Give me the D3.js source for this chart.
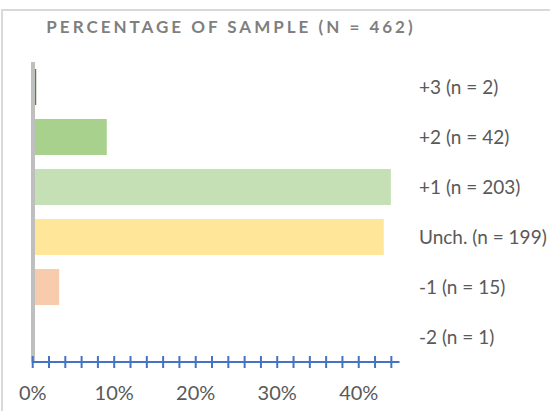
<!DOCTYPE html>
<html><head><meta charset="utf-8">
<script src="https://cdn.jsdelivr.net/npm/d3@7"></script>
<style>html,body{margin:0;padding:0;background:#fff;}svg{display:block;}</style>
</head><body>
<script>
const categories = ["+3 (n = 2)", "+2 (n = 42)", "+1 (n = 203)", "Unch. (n = 199)", "-1 (n = 15)", "-2 (n = 1)"];
const counts = [2, 42, 203, 199, 15, 1];
const total = 462;
const colors = ["#548235", "#a9d18e", "#c5e0b4", "#ffe699", "#f8cbad", "#f4b183"];
const tickLabels = ["0%", "10%", "20%", "30%", "40%"];
const title = "PERCENTAGE OF SAMPLE (N = 462)";

const W = 550, H = 411;
const svg = d3.select("body").append("svg").attr("width", W).attr("height", H);

svg.append("rect").attr("x", 2).attr("y", 10).attr("width", 600).attr("height", 500)
  .attr("fill", "none").attr("stroke", "#d9d9d9").attr("stroke-width", 2);

svg.append("text").attr("x", 231).attr("y", 33).attr("text-anchor", "middle")
  .attr("font-family", "Lato").attr("font-weight", "bold").attr("font-size", 17)
  .attr("letter-spacing", 3).attr("fill", "#7f7f7f").text(title);

const x = d3.scaleLinear().domain([0, 0.45]).range([32.7, 399.5]);
const y = d3.scaleBand().domain(categories).range([62, 362]).paddingInner(0.28).paddingOuter(0.14);

const data = categories.map((c, i) => ({c, v: counts[i] / total, col: colors[i]}));

svg.selectAll("rect.bar").data(data).join("rect").attr("class", "bar")
  .attr("x", x(0)).attr("y", d => y(d.c))
  .attr("width", d => x(d.v) - x(0)).attr("height", y.bandwidth())
  .attr("fill", d => d.col);

// vertical gray axis
svg.append("line").attr("x1", 33).attr("x2", 33).attr("y1", 62).attr("y2", 361)
  .attr("stroke", "#bfbfbf").attr("stroke-width", 4);

// category labels
svg.selectAll("text.cat").data(data).join("text").attr("class", "cat")
  .attr("x", 419).attr("y", d => y(d.c) + y.bandwidth() / 2 + 6.5)
  .attr("font-family", "Lato").attr("font-size", 19).attr("fill", "#595959")
  .text(d => d.c);

// x axis
const ticks = d3.range(0, 23).map(i => i * 0.02);
const ax = svg.append("g").attr("transform", "translate(0,362)");
ax.append("line").attr("x1", x(0) - 1).attr("x2", x(0.45)).attr("stroke", "#4472c4").attr("stroke-width", 2);
ax.selectAll("line.t").data(ticks).join("line").attr("class", "t")
  .attr("x1", d => x(d)).attr("x2", d => x(d)).attr("y1", -6).attr("y2", 6)
  .attr("stroke", "#4472c4").attr("stroke-width", 2);
svg.selectAll("text.tl").data(tickLabels).join("text").attr("class", "tl")
  .attr("x", (d, i) => x(i * 0.1)).attr("y", 400).attr("text-anchor", "middle")
  .attr("font-family", "Lato").attr("font-size", 20).attr("fill", "#595959").text(d => d);
</script>
</body></html>
